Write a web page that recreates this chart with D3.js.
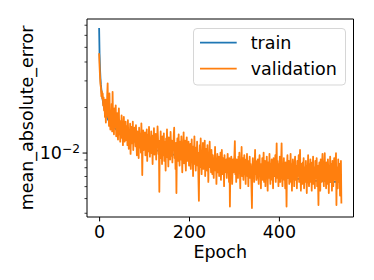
<!DOCTYPE html>
<html>
<head>
<meta charset="utf-8">
<script src="https://cdn.jsdelivr.net/npm/d3@7"></script>
<style>
html,body{margin:0;padding:0;background:#fff;}
svg{display:block;font-family:"DejaVu Sans",sans-serif;}
</style>
</head>
<body>
<svg id="chart" width="374" height="280"></svg>
<script>
// values in units of 1e-4 (mean absolute error)
const UNIT = 1e-4;
const seriesNames = ["train", "validation"];
const xTickValues = [0, 200, 400];
const yMajorTicks = [0.01];
const yMinorTicks = [0.004,0.005,0.006,0.007,0.008,0.009,0.02,0.03,0.04,0.05,0.06,0.07];
const xLabel = "Epoch";
const yLabel = "mean_absolute_error";

const trainValues = [
666,450,360,310,280,262,246,233,222,213,205,
199,194,189,185,181,177,174,171,168,165,
163,161,159,157,155,154,153,152,151,150,
149,148,147,146,145,144,143,142,141,140,
139,139,138,137,137,136,135,135,134,133,133,132,131,131,130,129,129,128,128,127,
126,126,125,125,124,124,123,123,122,122,121,121,120,120,120,119,119,119,118,118,
118,117,117,117,116,116,116,115,115,115,114,114,114,113,113,113,112,112,112,112,
111,111,111,110,110,110,109,109,109,108,108,108,107,107,107,107,106,106,106,105,105,105,105,104,104,104,104,103,103,103,
103,103,102,102,102,102,101,101,101,101,101,100,100,100,100,100,99,99,99,99,99,99,98,98,98,98,98,98,98,98,
98,97,97,97,97,97,97,96,96,96,96,96,96,96,96,95,95,95,95,95,95,95,95,94,94,94,94,94,94,94,94,94,93,93,93,93,93,93,93,93,
93,92,92,92,92,91,91,91,91,90,90,90,90,89,89,89,89,88,88,88,88,88,87,87,87,87,86,86,86,86,86,85,85,85,85,85,84,84,84,84,84,84,83,83,83,83,83,83,83,83,
83,82,82,82,82,82,82,82,81,81,81,81,81,81,81,80,80,80,80,80,80,80,80,79,79,79,79,79,79,79,79,79,78,78,78,78,78,78,78,78,78,78,77,77,77,77,77,77,77,77,
77,77,77,76,76,76,76,76,76,76,76,76,76,75,75,75,75,75,75,75,75,75,75,75,74,74,74,74,74,74,74,74,74,74,74,74,73,73,73,73,73,73,73,73,73,73,73,73,73,73,
73,73,73,72,72,72,72,72,72,72,72,72,72,72,72,72,72,71,71,71,71,71,71,71,71,71,71,71,71,71,71,70,70,70,70,70,70,70,70,70,70,70,70,70,70,70,70,70,70,70,
70,70,69,69,69,69,69,69,69,69,69,69,69,69,69,69,69,68,68,68,68,68,68,68,68,68,68,68,68,68,68,68,68,67,67,67,67,67,67,67,67,67,67,67,67,67,67,67,67,67,
67,67,67,67,67,66,66,66,66,66,66,66,66,66,66,66,66,66,66,66,66,66,66,66,66,66,65,65,65,65,65,65,65,65,65,65,65,65,65,65,65,65,65,65,65,65,65,65,65,65,
65,65,65,65,65,65,65,65,65,65,64,64,64,64,64,64,64,64,64,64,64,64,64,64,64,64,64,64,64,64,64,64,64,64,64,64,64,64,64
];

const validationValues = [
453,372,318,282,270,236,255,228,246,205,232,190,214,172,224,158,205,176,240,287,170,
198,150,246,168,142,186,155,210,138,252,160,175,132,196,148,168,205,128,158,182,
145,122,170,196,132,150,118,162,140,176,125,148,112,158,172,130,118,146,160,121,
138,150,112,164,128,106,142,122,155,98,136,148,115,126,160,104,138,119,146,128,
110,152,124,96,138,118,130,92,146,120,108,134,100,156,122,71,115,140,104,128,
118,136,96,125,110,142,88,120,132,102,148,114,94,126,108,138,99,122,84,130,112,145,97,118,106,133,90,124,115,149,
125,98,112,55,120,104,138,92,115,84,128,106,96,134,88,118,110,76,124,100,142,93,112,81,126,104,118,90,137,108,
95,120,86,112,104,130,146,92,110,78,116,54,100,124,88,106,132,96,82,118,102,90,128,110,74,114,98,136,85,108,120,92,76,112,126,88,104,95,118,82,
100,86,114,78,96,122,88,104,70,110,92,128,84,98,76,108,90,118,82,100,66,48,94,112,80,124,88,72,102,92,116,78,96,84,120,70,98,88,106,76,112,92,64,100,84,118,80,94,74,104,
88,72,96,80,68,92,84,109,76,90,62,86,98,74,82,94,70,88,78,100,66,84,104,80,72,92,86,60,96,78,88,74,90,68,84,98,76,82,64,92,44,80,70,94,86,62,78,90,74,84,
96,119,72,86,64,90,78,82,68,94,74,100,80,58,88,76,109,70,84,92,66,80,96,72,86,62,90,78,98,70,82,60,88,76,94,68,84,74,58,43,78,92,70,86,64,82,104,72,88,66,
80,68,90,74,62,86,96,70,78,58,84,72,92,66,80,100,64,76,88,60,82,70,94,74,56,86,78,68,98,72,62,84,76,90,66,80,58,92,74,86,70,96,64,82,115,68,88,76,60,84,
72,94,64,80,88,115,70,60,84,76,92,66,78,58,86,72,44,82,96,68,74,88,62,80,70,98,64,84,56,76,90,68,78,60,86,94,66,74,82,58,88,70,76,96,64,80,104,68,56,84,
72,62,86,68,92,58,76,80,64,88,70,54,82,74,96,66,60,84,72,90,64,78,56,86,70,94,62,80,74,58,88,68,76,92,60,82,66,45,78,86,70,56,90,72,64,84,98,66,74,60,
82,99,66,74,58,86,70,62,90,76,54,80,68,94,64,72,84,56,88,70,60,78,92,66,74,86,99,45,80,68,58,90,72,64,84,52,76,88,46
];

const colors = ["#1f77b4", "#ff7f0e"];

const svg = d3.select("#chart");
const L = 87, R = 353.5, T = 19, B = 217;

const train = trainValues.map((v, i) => [i, v * UNIT]);
const val = validationValues.map((v, i) => [i, v * UNIT]);
const all = train.concat(val);

// matplotlib-like 5% margins (log space for y)
const xExt = d3.extent(all, d => d[0]);
const xPad = (xExt[1] - xExt[0]) * 0.05;
const x = d3.scaleLinear().domain([xExt[0] - xPad, xExt[1] + xPad]).range([L, R]);
const yExt = d3.extent(all, d => Math.log10(d[1]));
const yPad = (yExt[1] - yExt[0]) * 0.05;
const y = d3.scaleLog().domain([Math.pow(10, yExt[0] - yPad), Math.pow(10, yExt[1] + yPad)]).range([B, T]);

svg.append("defs").append("clipPath").attr("id", "clip")
  .append("rect").attr("x", L).attr("y", T).attr("width", R - L).attr("height", B - T);

const line = d3.line().x(d => x(d[0])).y(d => y(d[1]));
const plot = svg.append("g").attr("clip-path", "url(#clip)");
[train, val].forEach((s, k) => {
  plot.append("path").datum(s).attr("d", line)
    .attr("fill", "none").attr("stroke", colors[k]).attr("stroke-width", 1.8)
    .attr("stroke-linejoin", "round").attr("stroke-linecap", "butt");
});

// x axis
const xAxis = d3.axisBottom(x).tickValues(xTickValues).tickSize(4.4).tickPadding(5).tickFormat(d3.format("d"));
const gx = svg.append("g").attr("transform", `translate(0,${B})`).call(xAxis);
gx.select(".domain").remove();
gx.selectAll(".tick line").attr("stroke", "#000").attr("stroke-width", 1);
gx.selectAll(".tick text").attr("font-size", 17.5).attr("fill", "#000")
  .attr("font-family", "DejaVu Sans").attr("dy", null).attr("y", 21.3);

// y axis minor ticks
const yMinor = d3.axisLeft(y).tickValues(yMinorTicks).tickSize(2.5).tickFormat("");
const gym = svg.append("g").attr("transform", `translate(${L},0)`).call(yMinor);
gym.select(".domain").remove();
gym.selectAll(".tick line").attr("stroke", "#000").attr("stroke-width", 0.75);

// y axis major ticks
const yMajor = d3.axisLeft(y).tickValues(yMajorTicks).tickSize(4.4).tickFormat("");
const gy = svg.append("g").attr("transform", `translate(${L},0)`).call(yMajor);
gy.select(".domain").remove();
gy.selectAll(".tick line").attr("stroke", "#000").attr("stroke-width", 1);
yMajorTicks.forEach(v => {
  const e = Math.round(Math.log10(v));
  const t = svg.append("text").attr("x", 80).attr("y", y(v) + 6.7)
    .attr("text-anchor", "end").attr("font-size", 17.5).attr("fill", "#000");
  t.append("tspan").text("10");
  t.append("tspan").attr("font-size", 12.25).attr("dy", -6).text("\u2212" + Math.abs(e));
});

// spines
const sp = svg.append("g").attr("stroke", "#000").attr("stroke-width", 1).attr("fill", "none");
sp.append("line").attr("x1", L).attr("x2", L).attr("y1", T).attr("y2", B);
sp.append("line").attr("x1", R).attr("x2", R).attr("y1", T).attr("y2", B);
sp.append("line").attr("x1", L).attr("x2", R).attr("y1", T).attr("y2", T);
sp.append("line").attr("x1", L).attr("x2", R).attr("y1", B).attr("y2", B);

// axis labels
svg.append("text").attr("x", (L + R) / 2).attr("y", 258).attr("text-anchor", "middle")
  .attr("font-size", 17.5).attr("fill", "#000").text(xLabel);
svg.append("text").attr("transform", `translate(32.5,${(T + B) / 2}) rotate(-90)`)
  .attr("text-anchor", "middle").attr("font-size", 17.5).attr("fill", "#000").text(yLabel);

// legend
const lg = svg.append("g");
lg.append("rect").attr("x", 193.5).attr("y", 28.5).attr("width", 152).attr("height", 56.5)
  .attr("rx", 3.5).attr("fill", "#fff").attr("fill-opacity", 0.8)
  .attr("stroke", "#cccccc").attr("stroke-opacity", 0.8).attr("stroke-width", 1);
seriesNames.forEach((n, k) => {
  const ly = 42.7 + k * 26;
  lg.append("line").attr("x1", 200).attr("x2", 236.7).attr("y1", ly).attr("y2", ly)
    .attr("stroke", colors[k]).attr("stroke-width", 1.8);
  lg.append("text").attr("x", 250.7).attr("y", ly + 5.8).attr("font-size", 17.5)
    .attr("fill", "#000").text(n);
});
</script>
</body>
</html>
